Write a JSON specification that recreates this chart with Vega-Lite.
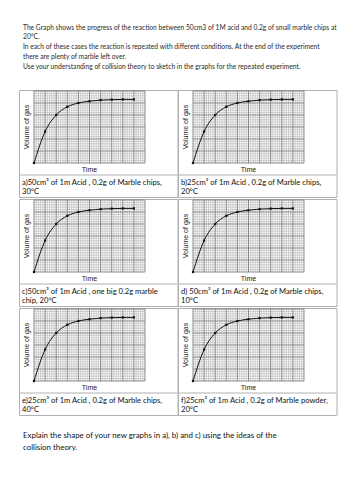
{
  "$schema": "https://vega.github.io/schema/vega-lite/v6.json",
  "background": "white",
  "padding": {"left": 18, "top": 24, "right": 0, "bottom": 0},
  "title": {
    "text": [
      "The Graph shows the progress of the reaction between 50cm3 of 1M acid and 0.2g of small marble chips at",
      "20°C.",
      "In each of these cases the reaction is repeated with different conditions. At the end of the experiment",
      "there are plenty of marble left over.",
      " Use your understanding of collision theory to sketch in the graphs for the repeated experiment."
    ],
    "anchor": "start", "frame": "group", "font": "Lato", "fontSize": 6.7, "fontWeight": "normal",
    "color": "#2a2a2a", "lineHeight": 9.8, "offset": 19, "dx": 4
  },
  "spacing": 0,
  "config": {
    "view": {"stroke": "#b0b0b0", "strokeWidth": 1},
    "axis": {"disable": true},
    "concat": {"spacing": 0}
  },
  "datasets": {
    "curve": [
      {"t": 0, "v": 0}, {"t": 1, "v": 2.62}, {"t": 2, "v": 4.0}, {"t": 3, "v": 4.68}, {"t": 4, "v": 5.0},
      {"t": 5, "v": 5.15}, {"t": 6, "v": 5.24}, {"t": 7, "v": 5.28}, {"t": 8, "v": 5.3}, {"t": 9, "v": 5.3}
    ],
    "gx": [
      {"x": 0}, {"x": 0.2}, {"x": 0.4}, {"x": 0.6}, {"x": 0.8}, {"x": 1}, {"x": 1.2}, {"x": 1.4}, {"x": 1.6}, {"x": 1.8},
      {"x": 2}, {"x": 2.2}, {"x": 2.4}, {"x": 2.6}, {"x": 2.8}, {"x": 3}, {"x": 3.2}, {"x": 3.4}, {"x": 3.6}, {"x": 3.8},
      {"x": 4}, {"x": 4.2}, {"x": 4.4}, {"x": 4.6}, {"x": 4.8}, {"x": 5}, {"x": 5.2}, {"x": 5.4}, {"x": 5.6}, {"x": 5.8},
      {"x": 6}, {"x": 6.2}, {"x": 6.4}, {"x": 6.6}, {"x": 6.8}, {"x": 7}, {"x": 7.2}, {"x": 7.4}, {"x": 7.6}, {"x": 7.8},
      {"x": 8}, {"x": 8.2}, {"x": 8.4}, {"x": 8.6}, {"x": 8.8}, {"x": 9}, {"x": 9.2}, {"x": 9.4}, {"x": 9.6}, {"x": 9.8},
      {"x": 10}
    ],
    "gy": [
      {"y": 0}, {"y": 0.2}, {"y": 0.4}, {"y": 0.6}, {"y": 0.8}, {"y": 1}, {"y": 1.2}, {"y": 1.4}, {"y": 1.6}, {"y": 1.8},
      {"y": 2}, {"y": 2.2}, {"y": 2.4}, {"y": 2.6}, {"y": 2.8}, {"y": 3}, {"y": 3.2}, {"y": 3.4}, {"y": 3.6}, {"y": 3.8},
      {"y": 4}, {"y": 4.2}, {"y": 4.4}, {"y": 4.6}, {"y": 4.8}, {"y": 5}, {"y": 5.2}, {"y": 5.4}, {"y": 5.6}, {"y": 5.8},
      {"y": 6}
    ]
  },
  "vconcat": [
    {
      "spacing": 0, "bounds": "flush",
      "hconcat": [
        {
          "width": 158.5, "height": 107,
          "layer": [
            {"data": {"name": "gx"}, "transform": [{"filter": "datum.x % 1 != 0"}], "mark": {"type": "rule", "color": "#bdbdbd", "strokeWidth": 0.7}, "encoding": {"x": {"field": "x", "type": "quantitative", "axis": null, "scale": {"domain": [-1.351, 12.928], "nice": false, "zero": false}}, "y": {"datum": 0, "type": "quantitative", "axis": null, "scale": {"domain": [-2.8333, 6.0833], "nice": false, "zero": false}}, "y2": {"datum": 6}}},
            {"data": {"name": "gy"}, "transform": [{"filter": "datum.y % 1 != 0"}], "mark": {"type": "rule", "color": "#bdbdbd", "strokeWidth": 0.7}, "encoding": {"y": {"field": "y", "type": "quantitative", "axis": null}, "x": {"datum": 0}, "x2": {"datum": 10}}},
            {"data": {"name": "gx"}, "transform": [{"filter": "datum.x % 1 == 0"}], "mark": {"type": "rule", "color": "#6e6e6e", "strokeWidth": 0.8}, "encoding": {"x": {"field": "x", "type": "quantitative", "axis": null}, "y": {"datum": 0}, "y2": {"datum": 6}}},
            {"data": {"name": "gy"}, "transform": [{"filter": "datum.y % 1 == 0"}], "mark": {"type": "rule", "color": "#6e6e6e", "strokeWidth": 0.8}, "encoding": {"y": {"field": "y", "type": "quantitative", "axis": null}, "x": {"datum": 0}, "x2": {"datum": 10}}},
            {"data": {"name": "curve"}, "mark": {"type": "line", "interpolate": "monotone", "color": "#111", "strokeWidth": 1}, "encoding": {"x": {"field": "t", "type": "quantitative", "axis": null}, "y": {"field": "v", "type": "quantitative", "axis": null}}},
            {"data": {"name": "curve"}, "mark": {"type": "point", "shape": "square", "filled": true, "color": "#111", "size": 5, "opacity": 1}, "encoding": {"x": {"field": "t", "type": "quantitative", "axis": null}, "y": {"field": "v", "type": "quantitative", "axis": null}}},
            {"data": {"values": [{}]}, "mark": {"type": "text", "text": "Time", "font": "Liberation Sans", "fontSize": 7, "color": "#222", "baseline": "middle", "align": "center"}, "encoding": {"x": {"datum": 5}, "y": {"datum": -0.58}}},
            {"data": {"values": [{}]}, "mark": {"type": "text", "text": "Volume of gas", "angle": 270, "font": "Liberation Sans", "fontSize": 7, "color": "#222", "baseline": "middle", "align": "center"}, "encoding": {"x": {"datum": -0.66}, "y": {"datum": 3}}},
            {"data": {"values": [{}]}, "mark": {"type": "rule", "color": "#b0b0b0", "strokeWidth": 1}, "encoding": {"y": {"datum": -1}, "x": {"datum": -1.351}, "x2": {"datum": 12.928}}},
            {"data": {"values": [{"caption": "a)50cm³ of 1m Acid , 0.2g of Marble chips,\n30°C"}]}, "mark": {"type": "text", "align": "left", "baseline": "top", "lineBreak": "\n", "lineHeight": 9.5, "font": "Lato", "fontSize": 7.6, "color": "#111"}, "encoding": {"text": {"field": "caption"}, "x": {"datum": -1.08}, "y": {"datum": -1.33}}}
          ]
        },
        {
          "width": 158.5, "height": 107,
          "layer": [
            {"data": {"name": "gx"}, "transform": [{"filter": "datum.x % 1 != 0"}], "mark": {"type": "rule", "color": "#bdbdbd", "strokeWidth": 0.7}, "encoding": {"x": {"field": "x", "type": "quantitative", "axis": null, "scale": {"domain": [-1.351, 12.928], "nice": false, "zero": false}}, "y": {"datum": 0, "type": "quantitative", "axis": null, "scale": {"domain": [-2.8333, 6.0833], "nice": false, "zero": false}}, "y2": {"datum": 6}}},
            {"data": {"name": "gy"}, "transform": [{"filter": "datum.y % 1 != 0"}], "mark": {"type": "rule", "color": "#bdbdbd", "strokeWidth": 0.7}, "encoding": {"y": {"field": "y", "type": "quantitative", "axis": null}, "x": {"datum": 0}, "x2": {"datum": 10}}},
            {"data": {"name": "gx"}, "transform": [{"filter": "datum.x % 1 == 0"}], "mark": {"type": "rule", "color": "#6e6e6e", "strokeWidth": 0.8}, "encoding": {"x": {"field": "x", "type": "quantitative", "axis": null}, "y": {"datum": 0}, "y2": {"datum": 6}}},
            {"data": {"name": "gy"}, "transform": [{"filter": "datum.y % 1 == 0"}], "mark": {"type": "rule", "color": "#6e6e6e", "strokeWidth": 0.8}, "encoding": {"y": {"field": "y", "type": "quantitative", "axis": null}, "x": {"datum": 0}, "x2": {"datum": 10}}},
            {"data": {"name": "curve"}, "mark": {"type": "line", "interpolate": "monotone", "color": "#111", "strokeWidth": 1}, "encoding": {"x": {"field": "t", "type": "quantitative", "axis": null}, "y": {"field": "v", "type": "quantitative", "axis": null}}},
            {"data": {"name": "curve"}, "mark": {"type": "point", "shape": "square", "filled": true, "color": "#111", "size": 5, "opacity": 1}, "encoding": {"x": {"field": "t", "type": "quantitative", "axis": null}, "y": {"field": "v", "type": "quantitative", "axis": null}}},
            {"data": {"values": [{}]}, "mark": {"type": "text", "text": "Time", "font": "Liberation Sans", "fontSize": 7, "color": "#222", "baseline": "middle", "align": "center"}, "encoding": {"x": {"datum": 5}, "y": {"datum": -0.58}}},
            {"data": {"values": [{}]}, "mark": {"type": "text", "text": "Volume of gas", "angle": 270, "font": "Liberation Sans", "fontSize": 7, "color": "#222", "baseline": "middle", "align": "center"}, "encoding": {"x": {"datum": -0.66}, "y": {"datum": 3}}},
            {"data": {"values": [{}]}, "mark": {"type": "rule", "color": "#b0b0b0", "strokeWidth": 1}, "encoding": {"y": {"datum": -1}, "x": {"datum": -1.351}, "x2": {"datum": 12.928}}},
            {"data": {"values": [{"caption": "b)25cm³ of 1m Acid , 0.2g of Marble chips,\n20°C"}]}, "mark": {"type": "text", "align": "left", "baseline": "top", "lineBreak": "\n", "lineHeight": 9.5, "font": "Lato", "fontSize": 7.6, "color": "#111"}, "encoding": {"text": {"field": "caption"}, "x": {"datum": -1.08}, "y": {"datum": -1.33}}}
          ]
        }
      ]
    },
    {
      "spacing": 0, "bounds": "flush",
      "hconcat": [
        {
          "width": 158.5, "height": 107,
          "layer": [
            {"data": {"name": "gx"}, "transform": [{"filter": "datum.x % 1 != 0"}], "mark": {"type": "rule", "color": "#bdbdbd", "strokeWidth": 0.7}, "encoding": {"x": {"field": "x", "type": "quantitative", "axis": null, "scale": {"domain": [-1.351, 12.928], "nice": false, "zero": false}}, "y": {"datum": 0, "type": "quantitative", "axis": null, "scale": {"domain": [-2.8333, 6.0833], "nice": false, "zero": false}}, "y2": {"datum": 6}}},
            {"data": {"name": "gy"}, "transform": [{"filter": "datum.y % 1 != 0"}], "mark": {"type": "rule", "color": "#bdbdbd", "strokeWidth": 0.7}, "encoding": {"y": {"field": "y", "type": "quantitative", "axis": null}, "x": {"datum": 0}, "x2": {"datum": 10}}},
            {"data": {"name": "gx"}, "transform": [{"filter": "datum.x % 1 == 0"}], "mark": {"type": "rule", "color": "#6e6e6e", "strokeWidth": 0.8}, "encoding": {"x": {"field": "x", "type": "quantitative", "axis": null}, "y": {"datum": 0}, "y2": {"datum": 6}}},
            {"data": {"name": "gy"}, "transform": [{"filter": "datum.y % 1 == 0"}], "mark": {"type": "rule", "color": "#6e6e6e", "strokeWidth": 0.8}, "encoding": {"y": {"field": "y", "type": "quantitative", "axis": null}, "x": {"datum": 0}, "x2": {"datum": 10}}},
            {"data": {"name": "curve"}, "mark": {"type": "line", "interpolate": "monotone", "color": "#111", "strokeWidth": 1}, "encoding": {"x": {"field": "t", "type": "quantitative", "axis": null}, "y": {"field": "v", "type": "quantitative", "axis": null}}},
            {"data": {"name": "curve"}, "mark": {"type": "point", "shape": "square", "filled": true, "color": "#111", "size": 5, "opacity": 1}, "encoding": {"x": {"field": "t", "type": "quantitative", "axis": null}, "y": {"field": "v", "type": "quantitative", "axis": null}}},
            {"data": {"values": [{}]}, "mark": {"type": "text", "text": "Time", "font": "Liberation Sans", "fontSize": 7, "color": "#222", "baseline": "middle", "align": "center"}, "encoding": {"x": {"datum": 5}, "y": {"datum": -0.58}}},
            {"data": {"values": [{}]}, "mark": {"type": "text", "text": "Volume of gas", "angle": 270, "font": "Liberation Sans", "fontSize": 7, "color": "#222", "baseline": "middle", "align": "center"}, "encoding": {"x": {"datum": -0.66}, "y": {"datum": 3}}},
            {"data": {"values": [{}]}, "mark": {"type": "rule", "color": "#b0b0b0", "strokeWidth": 1}, "encoding": {"y": {"datum": -1}, "x": {"datum": -1.351}, "x2": {"datum": 12.928}}},
            {"data": {"values": [{"caption": "c)50cm³ of 1m Acid , one big 0.2g marble\nchip, 20°C"}]}, "mark": {"type": "text", "align": "left", "baseline": "top", "lineBreak": "\n", "lineHeight": 9.5, "font": "Lato", "fontSize": 7.6, "color": "#111"}, "encoding": {"text": {"field": "caption"}, "x": {"datum": -1.08}, "y": {"datum": -1.33}}}
          ]
        },
        {
          "width": 158.5, "height": 107,
          "layer": [
            {"data": {"name": "gx"}, "transform": [{"filter": "datum.x % 1 != 0"}], "mark": {"type": "rule", "color": "#bdbdbd", "strokeWidth": 0.7}, "encoding": {"x": {"field": "x", "type": "quantitative", "axis": null, "scale": {"domain": [-1.351, 12.928], "nice": false, "zero": false}}, "y": {"datum": 0, "type": "quantitative", "axis": null, "scale": {"domain": [-2.8333, 6.0833], "nice": false, "zero": false}}, "y2": {"datum": 6}}},
            {"data": {"name": "gy"}, "transform": [{"filter": "datum.y % 1 != 0"}], "mark": {"type": "rule", "color": "#bdbdbd", "strokeWidth": 0.7}, "encoding": {"y": {"field": "y", "type": "quantitative", "axis": null}, "x": {"datum": 0}, "x2": {"datum": 10}}},
            {"data": {"name": "gx"}, "transform": [{"filter": "datum.x % 1 == 0"}], "mark": {"type": "rule", "color": "#6e6e6e", "strokeWidth": 0.8}, "encoding": {"x": {"field": "x", "type": "quantitative", "axis": null}, "y": {"datum": 0}, "y2": {"datum": 6}}},
            {"data": {"name": "gy"}, "transform": [{"filter": "datum.y % 1 == 0"}], "mark": {"type": "rule", "color": "#6e6e6e", "strokeWidth": 0.8}, "encoding": {"y": {"field": "y", "type": "quantitative", "axis": null}, "x": {"datum": 0}, "x2": {"datum": 10}}},
            {"data": {"name": "curve"}, "mark": {"type": "line", "interpolate": "monotone", "color": "#111", "strokeWidth": 1}, "encoding": {"x": {"field": "t", "type": "quantitative", "axis": null}, "y": {"field": "v", "type": "quantitative", "axis": null}}},
            {"data": {"name": "curve"}, "mark": {"type": "point", "shape": "square", "filled": true, "color": "#111", "size": 5, "opacity": 1}, "encoding": {"x": {"field": "t", "type": "quantitative", "axis": null}, "y": {"field": "v", "type": "quantitative", "axis": null}}},
            {"data": {"values": [{}]}, "mark": {"type": "text", "text": "Time", "font": "Liberation Sans", "fontSize": 7, "color": "#222", "baseline": "middle", "align": "center"}, "encoding": {"x": {"datum": 5}, "y": {"datum": -0.58}}},
            {"data": {"values": [{}]}, "mark": {"type": "text", "text": "Volume of gas", "angle": 270, "font": "Liberation Sans", "fontSize": 7, "color": "#222", "baseline": "middle", "align": "center"}, "encoding": {"x": {"datum": -0.66}, "y": {"datum": 3}}},
            {"data": {"values": [{}]}, "mark": {"type": "rule", "color": "#b0b0b0", "strokeWidth": 1}, "encoding": {"y": {"datum": -1}, "x": {"datum": -1.351}, "x2": {"datum": 12.928}}},
            {"data": {"values": [{"caption": "d) 50cm³ of 1m Acid , 0.2g of Marble chips,\n10°C"}]}, "mark": {"type": "text", "align": "left", "baseline": "top", "lineBreak": "\n", "lineHeight": 9.5, "font": "Lato", "fontSize": 7.6, "color": "#111"}, "encoding": {"text": {"field": "caption"}, "x": {"datum": -1.08}, "y": {"datum": -1.33}}}
          ]
        }
      ]
    },
    {
      "spacing": 0, "bounds": "flush",
      "title": {
        "text": ["Explain the shape of your new graphs in a), b) and c) using the ideas of the", "collision theory."],
        "orient": "bottom", "anchor": "start", "frame": "group", "font": "Lato", "fontSize": 7.9, "fontWeight": "normal",
        "color": "#111", "lineHeight": 12, "offset": 16.5, "dx": 4
      },
      "hconcat": [
        {
          "width": 158.5, "height": 107,
          "layer": [
            {"data": {"name": "gx"}, "transform": [{"filter": "datum.x % 1 != 0"}], "mark": {"type": "rule", "color": "#bdbdbd", "strokeWidth": 0.7}, "encoding": {"x": {"field": "x", "type": "quantitative", "axis": null, "scale": {"domain": [-1.351, 12.928], "nice": false, "zero": false}}, "y": {"datum": 0, "type": "quantitative", "axis": null, "scale": {"domain": [-2.8333, 6.0833], "nice": false, "zero": false}}, "y2": {"datum": 6}}},
            {"data": {"name": "gy"}, "transform": [{"filter": "datum.y % 1 != 0"}], "mark": {"type": "rule", "color": "#bdbdbd", "strokeWidth": 0.7}, "encoding": {"y": {"field": "y", "type": "quantitative", "axis": null}, "x": {"datum": 0}, "x2": {"datum": 10}}},
            {"data": {"name": "gx"}, "transform": [{"filter": "datum.x % 1 == 0"}], "mark": {"type": "rule", "color": "#6e6e6e", "strokeWidth": 0.8}, "encoding": {"x": {"field": "x", "type": "quantitative", "axis": null}, "y": {"datum": 0}, "y2": {"datum": 6}}},
            {"data": {"name": "gy"}, "transform": [{"filter": "datum.y % 1 == 0"}], "mark": {"type": "rule", "color": "#6e6e6e", "strokeWidth": 0.8}, "encoding": {"y": {"field": "y", "type": "quantitative", "axis": null}, "x": {"datum": 0}, "x2": {"datum": 10}}},
            {"data": {"name": "curve"}, "mark": {"type": "line", "interpolate": "monotone", "color": "#111", "strokeWidth": 1}, "encoding": {"x": {"field": "t", "type": "quantitative", "axis": null}, "y": {"field": "v", "type": "quantitative", "axis": null}}},
            {"data": {"name": "curve"}, "mark": {"type": "point", "shape": "square", "filled": true, "color": "#111", "size": 5, "opacity": 1}, "encoding": {"x": {"field": "t", "type": "quantitative", "axis": null}, "y": {"field": "v", "type": "quantitative", "axis": null}}},
            {"data": {"values": [{}]}, "mark": {"type": "text", "text": "Time", "font": "Liberation Sans", "fontSize": 7, "color": "#222", "baseline": "middle", "align": "center"}, "encoding": {"x": {"datum": 5}, "y": {"datum": -0.58}}},
            {"data": {"values": [{}]}, "mark": {"type": "text", "text": "Volume of gas", "angle": 270, "font": "Liberation Sans", "fontSize": 7, "color": "#222", "baseline": "middle", "align": "center"}, "encoding": {"x": {"datum": -0.66}, "y": {"datum": 3}}},
            {"data": {"values": [{}]}, "mark": {"type": "rule", "color": "#b0b0b0", "strokeWidth": 1}, "encoding": {"y": {"datum": -1}, "x": {"datum": -1.351}, "x2": {"datum": 12.928}}},
            {"data": {"values": [{"caption": "e)25cm³ of 1m Acid , 0.2g of Marble chips,\n40°C"}]}, "mark": {"type": "text", "align": "left", "baseline": "top", "lineBreak": "\n", "lineHeight": 9.5, "font": "Lato", "fontSize": 7.6, "color": "#111"}, "encoding": {"text": {"field": "caption"}, "x": {"datum": -1.08}, "y": {"datum": -1.33}}}
          ]
        },
        {
          "width": 158.5, "height": 107,
          "layer": [
            {"data": {"name": "gx"}, "transform": [{"filter": "datum.x % 1 != 0"}], "mark": {"type": "rule", "color": "#bdbdbd", "strokeWidth": 0.7}, "encoding": {"x": {"field": "x", "type": "quantitative", "axis": null, "scale": {"domain": [-1.351, 12.928], "nice": false, "zero": false}}, "y": {"datum": 0, "type": "quantitative", "axis": null, "scale": {"domain": [-2.8333, 6.0833], "nice": false, "zero": false}}, "y2": {"datum": 6}}},
            {"data": {"name": "gy"}, "transform": [{"filter": "datum.y % 1 != 0"}], "mark": {"type": "rule", "color": "#bdbdbd", "strokeWidth": 0.7}, "encoding": {"y": {"field": "y", "type": "quantitative", "axis": null}, "x": {"datum": 0}, "x2": {"datum": 10}}},
            {"data": {"name": "gx"}, "transform": [{"filter": "datum.x % 1 == 0"}], "mark": {"type": "rule", "color": "#6e6e6e", "strokeWidth": 0.8}, "encoding": {"x": {"field": "x", "type": "quantitative", "axis": null}, "y": {"datum": 0}, "y2": {"datum": 6}}},
            {"data": {"name": "gy"}, "transform": [{"filter": "datum.y % 1 == 0"}], "mark": {"type": "rule", "color": "#6e6e6e", "strokeWidth": 0.8}, "encoding": {"y": {"field": "y", "type": "quantitative", "axis": null}, "x": {"datum": 0}, "x2": {"datum": 10}}},
            {"data": {"name": "curve"}, "mark": {"type": "line", "interpolate": "monotone", "color": "#111", "strokeWidth": 1}, "encoding": {"x": {"field": "t", "type": "quantitative", "axis": null}, "y": {"field": "v", "type": "quantitative", "axis": null}}},
            {"data": {"name": "curve"}, "mark": {"type": "point", "shape": "square", "filled": true, "color": "#111", "size": 5, "opacity": 1}, "encoding": {"x": {"field": "t", "type": "quantitative", "axis": null}, "y": {"field": "v", "type": "quantitative", "axis": null}}},
            {"data": {"values": [{}]}, "mark": {"type": "text", "text": "Time", "font": "Liberation Sans", "fontSize": 7, "color": "#222", "baseline": "middle", "align": "center"}, "encoding": {"x": {"datum": 5}, "y": {"datum": -0.58}}},
            {"data": {"values": [{}]}, "mark": {"type": "text", "text": "Volume of gas", "angle": 270, "font": "Liberation Sans", "fontSize": 7, "color": "#222", "baseline": "middle", "align": "center"}, "encoding": {"x": {"datum": -0.66}, "y": {"datum": 3}}},
            {"data": {"values": [{}]}, "mark": {"type": "rule", "color": "#b0b0b0", "strokeWidth": 1}, "encoding": {"y": {"datum": -1}, "x": {"datum": -1.351}, "x2": {"datum": 12.928}}},
            {"data": {"values": [{"caption": "f)25cm³ of 1m Acid , 0.2g of Marble powder,\n20°C"}]}, "mark": {"type": "text", "align": "left", "baseline": "top", "lineBreak": "\n", "lineHeight": 9.5, "font": "Lato", "fontSize": 7.6, "color": "#111"}, "encoding": {"text": {"field": "caption"}, "x": {"datum": -1.08}, "y": {"datum": -1.33}}}
          ]
        }
      ]
    }
  ]
}
